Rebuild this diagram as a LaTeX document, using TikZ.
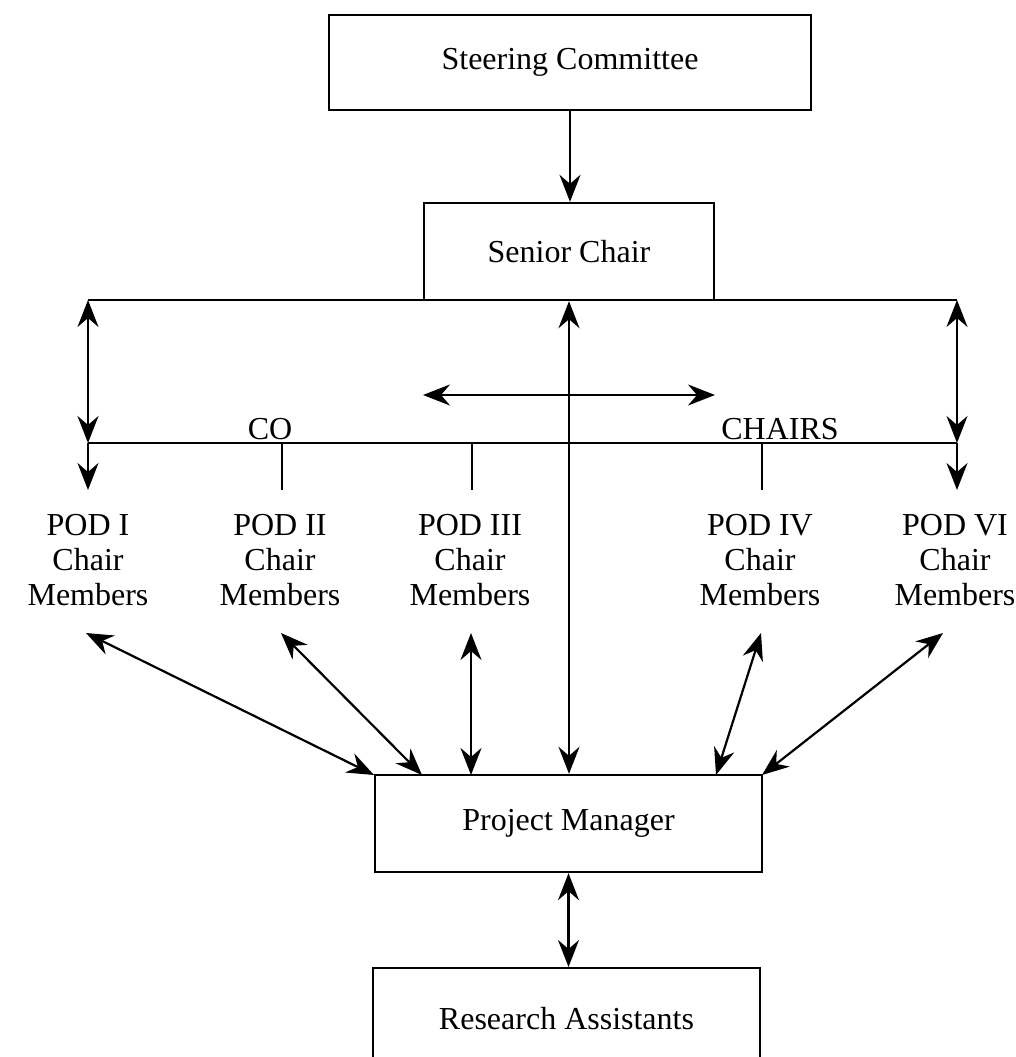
\documentclass[tikz,border=0pt]{standalone}
\usepackage{fontspec}
\setmainfont{Liberation Serif}
\usetikzlibrary{arrows.meta}
\begin{document}
\begin{tikzpicture}[x=1pt,y=-1pt,
  every node/.style={font=\fontsize{32}{35}\selectfont},
  box/.style={draw, line width=2.4pt, inner sep=0pt},
  ln/.style={line width=2.2pt},
  tip/.style={-{Stealth[length=27pt,width=21pt,inset=9pt]}},
  dbl/.style={{Stealth[length=27pt,width=21pt,inset=9pt]}-{Stealth[length=27pt,width=21pt,inset=9pt]}},
  lbl/.style={align=center, inner sep=0pt}]
\useasboundingbox (0,0) rectangle (1015,1057);
\clip (0,0) rectangle (1015,1057);

% boxes
\node[box, minimum width=482pt, minimum height=95pt] (steer) at (570,62.5) {Steering Committee};
\node[box, minimum width=290pt, minimum height=97pt] (senior) at (569,251.5) {Senior Chair};
\node[box, minimum width=387pt, minimum height=97pt] (pm) at (568.5,823.5) {Project Manager};
\node[box, minimum width=387pt, minimum height=100pt, anchor=north] (ra) at (566.5,967) {Research Assistants};

% pod labels
\node[lbl] (pod1) at (88,560) {POD I\\Chair\\Members};
\node[lbl] (pod2) at (280,560) {POD II\\Chair\\Members};
\node[lbl] (pod3) at (470,560) {POD III\\Chair\\Members};
\node[lbl] (pod4) at (760,560) {POD IV\\Chair\\Members};
\node[lbl] (pod6) at (955,560) {POD VI\\Chair\\Members};

\node[inner sep=0pt] (co) at (270,429) {CO};
\node[inner sep=0pt] (chairs) at (780,429) {CHAIRS};

% coordinates
\coordinate (tl) at (88,300);
\coordinate (tr) at (957,300);
\coordinate (bl) at (88,443);
\coordinate (br) at (957,443);
\coordinate (d1) at (88,490);
\coordinate (d6) at (957,490);
\coordinate (t2a) at (282,443);
\coordinate (t2b) at (282,490);
\coordinate (t3a) at (472,443);
\coordinate (t3b) at (472,490);
\coordinate (t4a) at (762,443);
\coordinate (t4b) at (762,490);
\coordinate (ha) at (423,395);
\coordinate (hb) at (715,395);

\coordinate (s1) at (86,633);
\coordinate (s2) at (281,633);
\coordinate (s3) at (471,633);
\coordinate (s4) at (761,633);
\coordinate (s6) at (943,633);
\coordinate (e1) at (374,775);
\coordinate (e2) at (422,775);
\coordinate (e3) at (471,775);
\coordinate (e4) at (716,775);
\coordinate (e6) at (762,775);

% connectors
\draw[ln,tip] (steer.south) -- (steer.south |- senior.north);
\draw[ln] (tl) -- (tr);
\draw[ln] (bl) -- (br);
\draw[ln,dbl] (tl) -- (bl);
\draw[ln,dbl] (tr) -- (br);
\draw[ln,tip] (bl) -- (d1);
\draw[ln,tip] (br) -- (d6);
\draw[ln] (t2a) -- (t2b);
\draw[ln] (t3a) -- (t3b);
\draw[ln] (t4a) -- (t4b);
\draw[ln,dbl] (ha) -- (hb);
\draw[ln,dbl] (senior.south) -- (senior.south |- pm.north);

\draw[ln,dbl] (s1) -- (e1);
\draw[ln,dbl] (s2) -- (e2);
\draw[ln,dbl] (s3) -- (e3);
\draw[ln,dbl] (s4) -- (e4);
\draw[ln,dbl] (s6) -- (e6);
\draw[ln,dbl] (pm.south) -- (pm.south |- ra.north);
\end{tikzpicture}
\end{document}
